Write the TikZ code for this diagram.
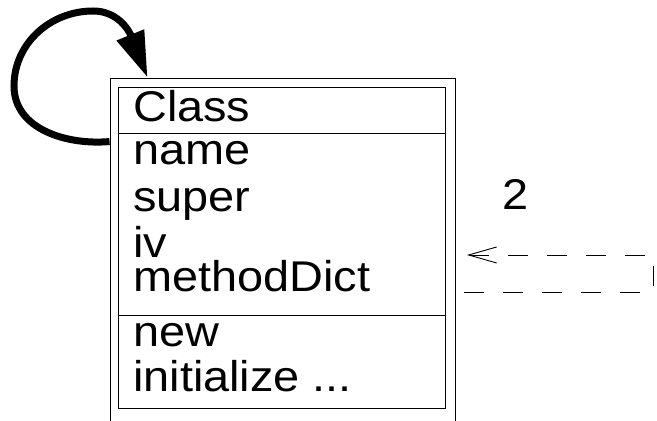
\documentclass[tikz,border=0pt]{standalone}
\usepackage{fontspec}
\setmainfont{Liberation Sans}[FakeStretch=1.09]
\usetikzlibrary{arrows.meta}

\begin{document}
\begin{tikzpicture}[x=1pt,y=1pt,
    slot/.style={anchor=base west, inner sep=0pt, font=\fontsize{43}{45}\selectfont},
    frame/.style={draw, line width=0.9pt, inner sep=0pt}]
  \useasboundingbox (0,0) rectangle (657,421);
  % the class box
  \node[frame, minimum width=345pt, minimum height=373pt] (outer) at (282.5,156.5) {};
  \node[frame, minimum width=327pt, minimum height=321pt] (body) at (281.5,173.5) {};
  \draw[line width=0.9pt] (body.west |- 0,288) -- (body.east |- 0,288);
  \draw[line width=0.9pt] (body.west |- 0,106) -- (body.east |- 0,106);
  \node[slot] (cls) at (133,299) {Class};
  \node[slot] (name) at (133,256) {name};
  \node[slot] (super) at (133,209) {super};
  \node[slot] (iv) at (133,163) {iv};
  \node[slot] (mdict) at (133,129) {methodDict};
  \node[slot] (new) at (133,74) {new};
  \node[slot] (init) at (133,29) {initialize ...};
  \node[slot] (count) at (502,211) {2};
  % instance-of loop
  \coordinate (loop start) at ([yshift=-64pt]outer.north west);
  \coordinate (loop end) at ([xshift=38pt]outer.north west);
  \draw[line width=7pt, -{Triangle[length=46pt,width=28pt]}] (loop start) to[out=185,in=270] (14,335)
    to[out=90,in=180] (93,410) to[out=0,in=112] (loop end);
  % dashed reference
  \coordinate (ref in) at (467,166);
  \coordinate (ref top) at (653,166);
  \coordinate (ref bottom) at (653,129);
  \coordinate (ref out) at (458,129);
  \draw[line width=0.9pt, dash pattern=on 20pt off 19pt, {Straight Barb[length=28pt,width=16pt]}-]
    (ref in) -- (ref top) -- (ref bottom) -- (ref out);
\end{tikzpicture}
\end{document}
